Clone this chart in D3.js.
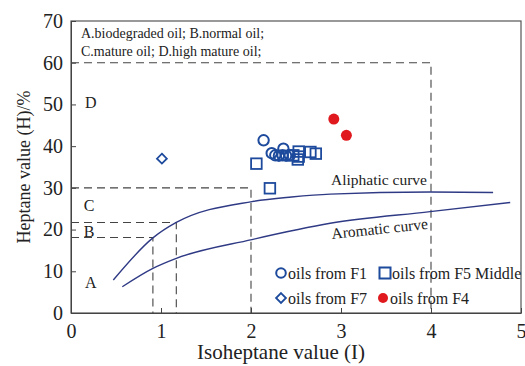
<!DOCTYPE html>
<html>
<head>
<meta charset="utf-8">
<script src="https://cdn.jsdelivr.net/npm/d3@7"></script>
<style>
  html, body { margin: 0; padding: 0; background: #fff; }
  svg { display: block; font-family: "Liberation Serif", "Times New Roman", serif; }
</style>
</head>
<body>
<svg id="chart" width="525" height="366"></svg>
<script>
// ---------- data ----------
const xTicks = [0, 1, 2, 3, 4, 5];
const yTicks = [0, 10, 20, 30, 40, 50, 60, 70];

const aliphaticX = [0.47, 0.91, 1.17, 2.01, 2.45, 2.88, 3.99, 4.69];
const aliphaticY = [7.9, 18.0, 21.7, 26.7, 27.8, 28.5, 29.0, 28.9];

const aromaticX = [0.57, 0.91, 1.17, 2.01, 2.88, 3.99, 4.88];
const aromaticY = [6.3, 10.7, 13.1, 17.6, 21.5, 24.3, 26.5];

const f1X = [2.14, 2.23, 2.36, 2.27, 2.31, 2.35, 2.39, 2.43];
const f1Y = [41.4, 38.3, 39.4, 37.8, 37.7, 37.8, 37.7, 37.8];

const f5X = [2.06, 2.21, 2.47, 2.53, 2.53, 2.52, 2.66, 2.72];
const f5Y = [35.8, 29.9, 37.8, 38.7, 37.5, 36.8, 38.6, 38.2];

const f7X = [1.01];
const f7Y = [37.0];

const f4X = [2.92, 3.06];
const f4Y = [46.5, 42.6];

// boundary (dashed) lines: [x-extent, y-level]
const boundX = [4, 2, 1.17, 0.91];
const boundY = [60, 30, 21.7, 18.1];

const regionLabels = ["A", "B", "C", "D"];
const regionLabelX = [0.22, 0.2, 0.2, 0.22];
const regionLabelY = [7.3, 19.5, 25.8, 50.5];

const noteLines = ["A.biodegraded oil; B.normal oil;", "C.mature oil; D.high mature oil;"];
const legendLabels = ["oils from F1", "oils from F5 Middle", "oils from F7", "oils from F4"];

// ---------- setup ----------
const svg = d3.select("#chart");
const x = d3.scaleLinear().domain([0, 5]).range([71, 521]);
const y = d3.scaleLinear().domain([0, 70]).range([313, 21]);

const blue = "#1d4a9c";
const navy = "#2f3a85";
const red = "#e0191f";
const axisCol = "#444";

// frame
svg.append("rect")
  .attr("x", x(0)).attr("y", y(70))
  .attr("width", x(5) - x(0)).attr("height", y(0) - y(70))
  .attr("fill", "none").attr("stroke", "#555").attr("stroke-width", 1.2);

// axes
const xAxis = svg.append("g")
  .attr("transform", `translate(0,${y(0)})`)
  .call(d3.axisBottom(x).tickValues(xTicks).tickFormat(d3.format("d"))
    .tickSizeInner(-5).tickSizeOuter(0).tickPadding(11));
xAxis.select(".domain").attr("stroke", axisCol);
xAxis.selectAll(".tick line").attr("stroke", axisCol);
xAxis.selectAll("text").attr("font-size", 20).attr("fill", "#222")
  .attr("font-family", "Liberation Serif, serif");

const yAxis = svg.append("g")
  .attr("transform", `translate(${x(0)},0)`)
  .call(d3.axisLeft(y).tickValues(yTicks).tickFormat(d3.format("d"))
    .tickSizeInner(-5).tickSizeOuter(0).tickPadding(8));
yAxis.select(".domain").attr("stroke", axisCol);
yAxis.selectAll(".tick line").attr("stroke", axisCol);
yAxis.selectAll("text").attr("font-size", 20).attr("fill", "#222")
  .attr("font-family", "Liberation Serif, serif");

// axis titles
svg.append("text")
  .attr("x", 281).attr("y", 359)
  .attr("text-anchor", "middle").attr("font-size", 21).attr("fill", "#222")
  .text("Isoheptane value (I)");

svg.append("text")
  .attr("transform", `translate(30,${(y(0) + y(70)) / 2}) rotate(-90)`)
  .attr("text-anchor", "middle").attr("font-size", 18).attr("fill", "#222")
  .text("Heptane value (H)/%");

// dashed boundaries
const dashG = svg.append("g").attr("fill", "none").attr("stroke", "#444")
  .attr("stroke-width", 1.1).attr("stroke-dasharray", "8,5");
boundX.forEach((bx, i) => {
  dashG.append("path")
    .attr("d", d3.line()([[x(0), y(boundY[i])], [x(bx), y(boundY[i])], [x(bx), y(0)]]));
});

// curves
const lineGen = d3.line().x(d => x(d[0])).y(d => y(d[1])).curve(d3.curveMonotoneX);
svg.append("path")
  .attr("d", lineGen(aliphaticX.map((v, i) => [v, aliphaticY[i]])))
  .attr("fill", "none").attr("stroke", navy).attr("stroke-width", 1.4);
svg.append("path")
  .attr("d", lineGen(aromaticX.map((v, i) => [v, aromaticY[i]])))
  .attr("fill", "none").attr("stroke", navy).attr("stroke-width", 1.4);

svg.append("text").attr("x", 331).attr("y", 185)
  .attr("font-size", 15.5).attr("fill", "#222").text("Aliphatic curve");
svg.append("text")
  .attr("transform", "translate(332,239) rotate(-6)")
  .attr("font-size", 15.5).attr("fill", "#222").text("Aromatic curve");

// note text
noteLines.forEach((t, i) => {
  svg.append("text").attr("x", 81).attr("y", 38 + i * 18)
    .attr("font-size", 14).attr("fill", "#222").text(t);
});

// region labels
regionLabels.forEach((t, i) => {
  svg.append("text").attr("x", x(regionLabelX[i])).attr("y", y(regionLabelY[i]))
    .attr("text-anchor", "middle").attr("dominant-baseline", "central")
    .attr("font-size", 16).attr("fill", "#222").text(t);
});

// data points
const pts = svg.append("g");
// F5 squares
pts.selectAll(".f5").data(f5X.map((v, i) => [v, f5Y[i]])).enter()
  .append("rect").attr("class", "f5")
  .attr("x", d => x(d[0]) - 5.3).attr("y", d => y(d[1]) - 5.3)
  .attr("width", 10.6).attr("height", 10.6)
  .attr("fill", "none").attr("stroke", blue).attr("stroke-width", 1.8);
// F1 circles
pts.selectAll(".f1").data(f1X.map((v, i) => [v, f1Y[i]])).enter()
  .append("circle").attr("class", "f1")
  .attr("cx", d => x(d[0])).attr("cy", d => y(d[1])).attr("r", 5.2)
  .attr("fill", "none").attr("stroke", blue).attr("stroke-width", 2);
// F7 diamonds
const diamond = d3.symbol().type(d3.symbolDiamond2).size(62);
pts.selectAll(".f7").data(f7X.map((v, i) => [v, f7Y[i]])).enter()
  .append("path").attr("class", "f7")
  .attr("transform", d => `translate(${x(d[0])},${y(d[1])})`)
  .attr("d", diamond())
  .attr("fill", "none").attr("stroke", blue).attr("stroke-width", 1.8);
// F4 filled red circles
pts.selectAll(".f4").data(f4X.map((v, i) => [v, f4Y[i]])).enter()
  .append("circle").attr("class", "f4")
  .attr("cx", d => x(d[0])).attr("cy", d => y(d[1])).attr("r", 5.5)
  .attr("fill", red);

// legend
const lg = svg.append("g");
const legPos = [[281, 273], [385, 273], [281, 298], [383, 298]];
lg.append("circle").attr("cx", legPos[0][0]).attr("cy", legPos[0][1]).attr("r", 4.8)
  .attr("fill", "none").attr("stroke", blue).attr("stroke-width", 2);
lg.append("rect").attr("x", legPos[1][0] - 5.5).attr("y", legPos[1][1] - 5.5)
  .attr("width", 11).attr("height", 11)
  .attr("fill", "none").attr("stroke", blue).attr("stroke-width", 2);
lg.append("path").attr("transform", `translate(${legPos[2][0]},${legPos[2][1]})`)
  .attr("d", diamond()).attr("fill", "none").attr("stroke", blue).attr("stroke-width", 1.8);
lg.append("circle").attr("cx", legPos[3][0]).attr("cy", legPos[3][1]).attr("r", 5)
  .attr("fill", red);
legendLabels.forEach((t, i) => {
  lg.append("text").attr("x", legPos[i][0] + 7).attr("y", legPos[i][1])
    .attr("dominant-baseline", "central")
    .attr("font-size", 16).attr("fill", "#222").text(t);
});
</script>
</body>
</html>
